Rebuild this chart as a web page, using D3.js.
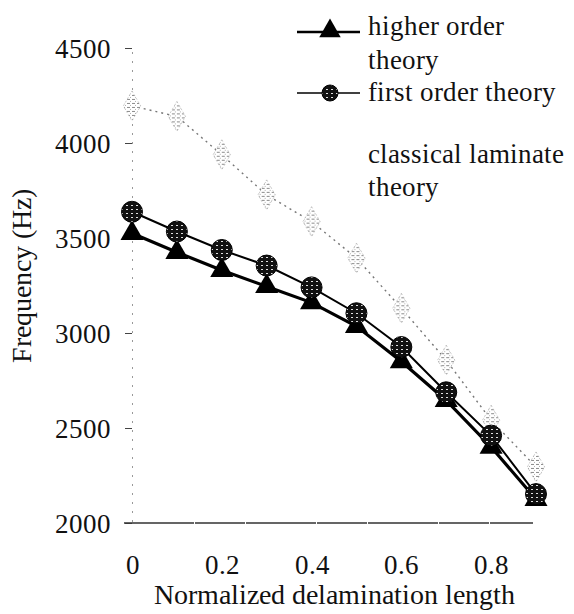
<!DOCTYPE html>
<html>
<head>
<meta charset="utf-8">
<script src="https://cdn.jsdelivr.net/npm/d3@7"></script>
<style>
  @font-face {
    font-family: "PlotSerif";
    src: local("Liberation Serif"), local("LiberationSerif"), local("Liberation Serif Regular"),
         local("LiberationSerif-Regular"), local("Tinos"), local("Times New Roman");
  }
</style>
</head>
<body style="margin:0">
<svg id="freqplot" width="574" height="614" style="font-family: PlotSerif, 'Liberation Serif', serif"></svg>
<script>
// Normalized delamination length (x) and natural frequency (Hz) per theory
const delamLength = [0, 0.1, 0.2, 0.3, 0.4, 0.5, 0.6, 0.7, 0.8, 0.9];
const higherOrder = [3525, 3425, 3330, 3245, 3160, 3035, 2850, 2645, 2400, 2125];
const firstOrder  = [3638, 3534, 3437, 3355, 3240, 3104, 2926, 2688, 2460, 2152];
const classical   = [4195, 4140, 3938, 3727, 3586, 3394, 3130, 2857, 2541, 2295];

const xTickValues = [0, 0.2, 0.4, 0.6, 0.8];
const yTickValues = [2000, 2500, 3000, 3500, 4000, 4500];
const legendLabels = [["higher order", "theory"], ["first order theory"], ["classical laminate", "theory"]];

const FONT = 'PlotSerif, "Liberation Serif", serif';

const svg = d3.select("#freqplot");

const x = d3.scaleLinear().domain([0, 0.9]).range([132, 536]);
const y = d3.scaleLinear().domain([2000, 4500]).range([523, 48]);

function serif(sel, size) {
  return sel.style("font-family", FONT).attr("font-size", size).attr("fill", "#111");
}

// speckled fills for the markers
const defs = svg.append("defs");
const sp = defs.append("pattern").attr("id", "speckle")
  .attr("patternUnits", "userSpaceOnUse").attr("width", 5).attr("height", 4);
sp.append("rect").attr("width", 5).attr("height", 4).attr("fill", "#111");
sp.append("rect").attr("x", 1).attr("y", 1).attr("width", 2).attr("height", 1).attr("fill", "#ddd");

const gp = defs.append("pattern").attr("id", "greyspeckle")
  .attr("patternUnits", "userSpaceOnUse").attr("width", 5).attr("height", 4);
gp.append("rect").attr("width", 5).attr("height", 4).attr("fill", "#fff");
gp.append("rect").attr("x", 0).attr("y", 1).attr("width", 3).attr("height", 1).attr("fill", "#8a8a8a");
gp.append("rect").attr("x", 3).attr("y", 3).attr("width", 1).attr("height", 1).attr("fill", "#b0b0b0");

// y axis
const yAxis = d3.axisLeft(y).tickValues(yTickValues).tickSize(7).tickPadding(14)
  .tickFormat(d3.format("d"));
const gy = svg.append("g").attr("transform", `translate(${x(0)},0)`).call(yAxis);
gy.attr("font-family", null).attr("font-size", null);
gy.select(".domain").attr("stroke", "#999").attr("stroke-dasharray", "2,7").attr("stroke-width", 1);
gy.selectAll(".tick line").attr("stroke", "#444").attr("stroke-width", 1);
serif(gy.selectAll(".tick text"), 27).attr("dy", "0.34em");

// x axis (labels only)
const xAxis = d3.axisBottom(x).tickValues(xTickValues).tickSize(0).tickPadding(32)
  .tickFormat(d => d === 0 ? "0" : d3.format(".1f")(d));
const gx = svg.append("g").attr("transform", `translate(0,${y(2000)})`).call(xAxis);
gx.attr("font-family", null).attr("font-size", null);
gx.select(".domain").remove();
serif(gx.selectAll(".tick text"), 27);

// baseline at 2000 Hz
svg.append("line")
  .attr("x1", x(0) - 8).attr("x2", x(0.9) - 3)
  .attr("y1", y(2000)).attr("y2", y(2000))
  .attr("stroke", "#333").attr("stroke-width", 1.3)
  .attr("stroke-dasharray", "70,1,50,1");

// axis titles
serif(svg.append("text").attr("x", 334).attr("y", 604).attr("text-anchor", "middle"), 28)
  .text("Normalized delamination length");
serif(svg.append("text").attr("transform", "translate(31,276) rotate(-90)")
  .attr("text-anchor", "middle"), 28).text("Frequency (Hz)");

const line = d3.line().x((d, i) => x(delamLength[i])).y(d => y(d));

// classical laminate theory: faint dotted grey
svg.append("path").datum(classical).attr("d", line)
  .attr("fill", "none").attr("stroke", "#777").attr("stroke-width", 1.4)
  .attr("stroke-dasharray", "2,4");
svg.append("g").selectAll("path").data(classical).join("path")
  .attr("transform", (d, i) => `translate(${x(delamLength[i])},${y(d)})`)
  .attr("d", d3.symbol(d3.symbolDiamond, 260))
  .attr("fill", "url(#greyspeckle)").attr("stroke", "#aaa").attr("stroke-width", 0.6)
  .attr("stroke-dasharray", "2,2");

// higher order theory: thick black line with triangles
svg.append("path").datum(higherOrder).attr("d", line)
  .attr("fill", "none").attr("stroke", "#000").attr("stroke-width", 3.2);

// first order theory: black line with speckled circles
svg.append("path").datum(firstOrder).attr("d", line)
  .attr("fill", "none").attr("stroke", "#000").attr("stroke-width", 2);

svg.append("g").selectAll("path").data(higherOrder).join("path")
  .attr("transform", (d, i) => `translate(${x(delamLength[i])},${y(d)})`)
  .attr("d", d3.symbol(d3.symbolTriangle, 230)).attr("fill", "#000");

svg.append("g").selectAll("circle").data(firstOrder).join("circle")
  .attr("cx", (d, i) => x(delamLength[i])).attr("cy", d => y(d)).attr("r", 10.5)
  .attr("fill", "url(#speckle)").attr("stroke", "#000").attr("stroke-width", 1);

// legend
const lg = svg.append("g");
lg.append("line").attr("x1", 297).attr("x2", 360).attr("y1", 32).attr("y2", 32)
  .attr("stroke", "#000").attr("stroke-width", 2.5);
lg.append("path").attr("transform", "translate(330,31)")
  .attr("d", d3.symbol(d3.symbolTriangle, 200)).attr("fill", "#000");
lg.append("line").attr("x1", 297).attr("x2", 360).attr("y1", 93).attr("y2", 93)
  .attr("stroke", "#000").attr("stroke-width", 1.3);
lg.append("circle").attr("cx", 330).attr("cy", 93).attr("r", 8)
  .attr("fill", "url(#speckle)").attr("stroke", "#000");

const legendBaselines = [[35, 69], [101], [163, 196]];
legendLabels.forEach((lines, k) => {
  lines.forEach((t, j) => {
    serif(lg.append("text").attr("x", 368).attr("y", legendBaselines[k][j]), 27).text(t);
  });
});
</script>
</body>
</html>
